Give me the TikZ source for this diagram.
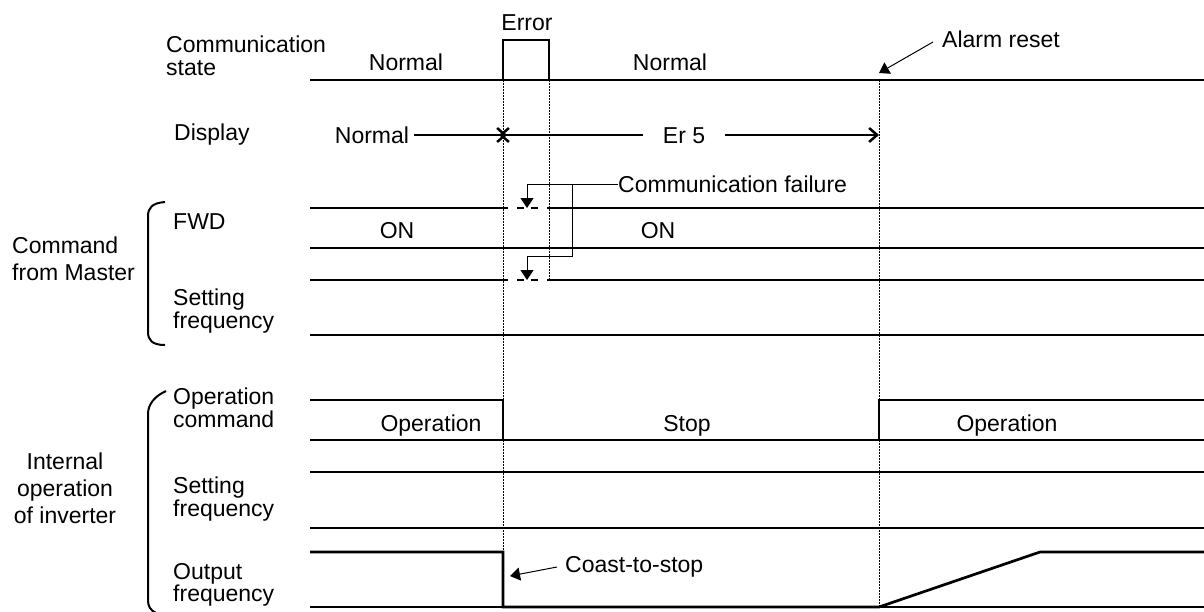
\documentclass[tikz,border=0pt]{standalone}
\usepackage{fontspec}
\setmainfont{Liberation Sans}
\usetikzlibrary{arrows.meta}

\begin{document}
\begin{tikzpicture}[x=1pt,y=-1pt,>={Straight Barb[length=8pt,width=14pt]},
	every node/.style={inner sep=0pt,font=\fontsize{23}{21}\selectfont},
	row label/.style={anchor=north west,align=left},
	group label/.style={font=\fontsize{23}{27}\selectfont},
	sig/.style={line width=2.7pt},
	base line/.style={line width=1.1pt},
	guide/.style={line width=1pt,dash pattern=on 1.5pt off 1.5pt},
	span/.style={line width=2.5pt},
	callout/.style={line width=1pt,-{Triangle[length=10pt,width=13pt]}}]
\useasboundingbox (0,0) rectangle (1204,611);

% guide lines
\draw[guide] (503,80) -- (503,607);
\draw[guide] (549,80) -- (549,280);
\draw[guide] (879,80) -- (879,607);

% thin base lines
\draw[base line] (310,80) -- (1204,80);
\draw[base line] (310,248) -- (1204,248);
\draw[base line] (310,335) -- (1204,335);
\draw[base line] (310,440) -- (1204,440);
\draw[base line] (310,528) -- (1204,528);
\draw[base line] (310,607) -- (1204,607);

% signals
\draw[sig] (310,80) -- (503,80) -- (503,40) -- (549,40) -- (549,80) -- (1204,80);
\draw[sig] (310,208) -- (508,208) (517,208) -- (524,208) (531,208) -- (538,208) (547,208) -- (1204,208);
\draw[sig] (310,280) -- (508,280) (517,280) -- (524,280) (531,280) -- (538,280) (547,280) -- (1204,280);
\draw[sig] (310,400) -- (503,400) -- (503,440) -- (879,440) -- (879,400) -- (1204,400);
\draw[sig] (310,472) -- (1204,472);
\draw[sig] (310,552) -- (503,552) -- (503,607) -- (879,607) -- (1040,552) -- (1204,552);

% braces
\draw[line width=2pt] (165,202) .. controls (152,203) and (148,208) .. (148,216) -- (148,332)
	.. controls (148,340) and (152,345) .. (165,345);
\draw[line width=2pt] (166,391) .. controls (155,396) and (148,404) .. (148,414) -- (148,600)
	.. controls (148,606) and (150,610) .. (156,613);

% row labels
\node[row label,font=\fontsize{23}{23}\selectfont] (lblComm) at (166,36) {Communication\\state};
\node[row label] (lblDisp) at (174,124) {Display};
\node[row label] (lblFwd) at (173,213) {FWD};
\node[row label] (lblSet1) at (173,289) {Setting\\frequency};
\node[row label] (lblOpCmd) at (173,388) {Operation\\command};
\node[row label] (lblSet2) at (173,477) {Setting\\frequency};
\node[row label] (lblOut) at (173,563) {Output\\frequency};
\node[group label,anchor=north west,align=left] (grpMaster) at (12,237) {Command\\from Master};
\node[group label,anchor=north,align=center] (grpInv) at (65,453) {Internal\\operation\\of inverter};

% state texts
\node[anchor=base] (err) at (527,30) {Error};
\node[anchor=base] (csNorm1) at (406,70) {Normal};
\node[anchor=base] (csNorm2) at (670,70) {Normal};
\node[anchor=base] (fwdOn1) at (397,238) {ON};
\node[anchor=base] (fwdOn2) at (658,238) {ON};
\node[anchor=base] (opRun1) at (431,431) {Operation};
\node[anchor=base] (opStop) at (687,431) {Stop};
\node[anchor=base] (opRun2) at (1007,431) {Operation};

% display
\node[anchor=base,inner xsep=5pt] (dispNorm) at (372,143) {Normal};
\node[anchor=base,inner xsep=20pt] (er5) at (684,143) {Er 5};
\coordinate (errOn) at (503,135);
\coordinate (errOff) at (879,135);
\draw[span,->,shorten >=-4pt] (dispNorm.east |- errOn) -- (errOn);
\draw[span,<-,shorten <=-4pt] (errOn) -- (errOn -| er5.west);
\draw[span,->] (errOn -| er5.east) -- (errOff);

% callouts
\node[anchor=west] (cfail) at (618,184) {Communication failure};
\coordinate (fork) at (572,184);
\coordinate (knee) at (527,256);
\coordinate (failA) at (527,208);
\coordinate (failB) at (527,280);
\draw[callout] (cfail.west) -| (failA);
\draw[callout] (fork) |- (knee) -- (failB);

\node[anchor=west,inner xsep=9pt] (alarm) at (933,39) {Alarm reset};
\coordinate (resetTip) at (879,73);
\draw[callout] ([yshift=-3pt]alarm.west) -- (resetTip);

\node[anchor=west,inner xsep=8pt] (coast) at (557,567) {Coast-to-stop};
\coordinate (coastTip) at (510,576);
\draw[callout] (coast.west) -- (coastTip);
\end{tikzpicture}
\end{document}
